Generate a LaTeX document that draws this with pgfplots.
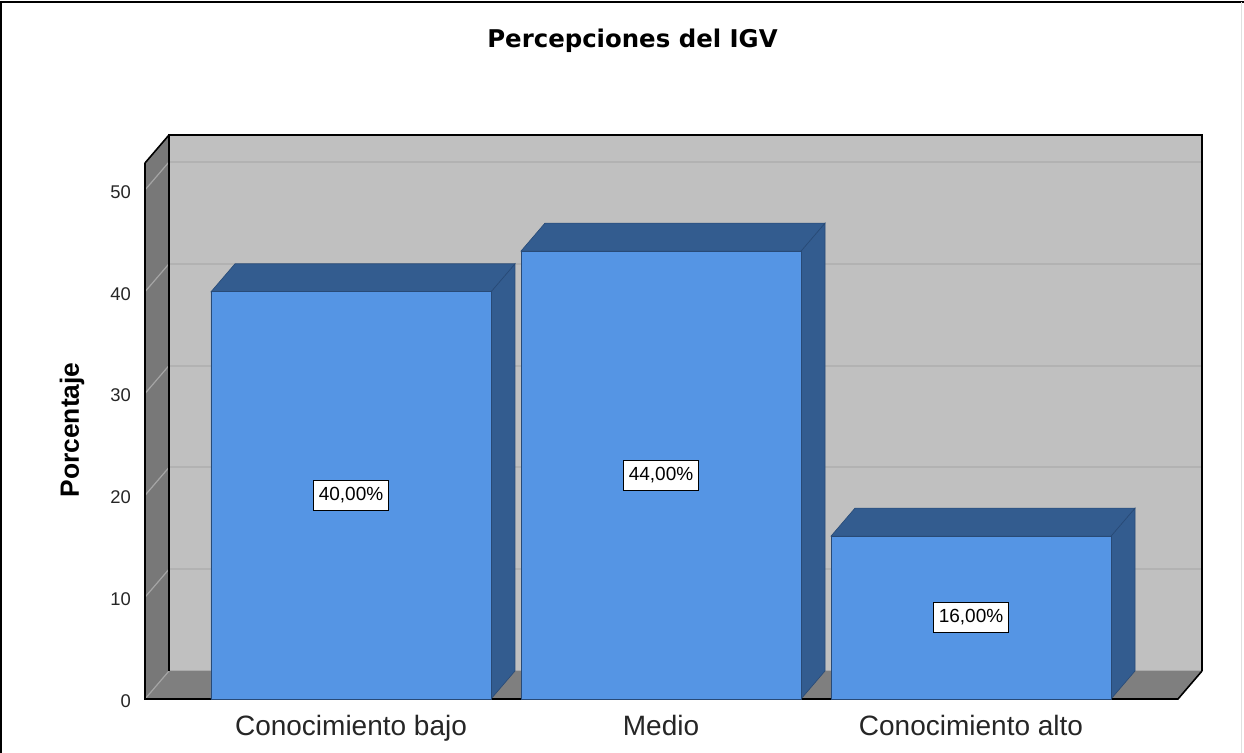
\documentclass[border=0pt]{standalone}
\usepackage{pgfplots}
\pgfplotsset{compat=1.18}
\usepackage{pgfplotstable}
\usepackage{fontspec}
\setmainfont{Liberation Sans}
\newfontfamily\titlefont{DejaVu Sans}
\definecolor{wallback}{HTML}{C0C0C0}
\definecolor{wallside}{HTML}{787878}
\definecolor{wallfloor}{HTML}{7F7F7F}
\definecolor{gridback}{HTML}{B2B2B2}
\definecolor{gridside}{HTML}{A5A5A5}
\definecolor{barfront}{HTML}{5595E4}
\definecolor{barside}{HTML}{335C8F}
\definecolor{baredge}{HTML}{284A76}

\pgfplotstableread{
x v
0 40
1 44
2 16
}\data

\begin{document}
\begin{tikzpicture}
\useasboundingbox (-72.5pt,-27pt) rectangle (549.5pt,349.5pt);
\fill[white] (-72.5pt,-27pt) rectangle (549.5pt,349.5pt);
\begin{axis}[
  at={(0,0)}, anchor=south west,
  scale only axis, width=516.5pt, height=268pt,
  xmin=-0.6645, xmax=2.6677, ymin=0, ymax=52.65,
  clip=false,
  axis line style={draw=none},
  major tick length=0pt,
  xtick={0,1,2},
  xticklabels={Conocimiento bajo, Medio, Conocimiento alto},
  ytick={0,10,20,30,40,50},
  tick label style={/pgf/number format/assume math mode=true},
  yticklabel style={font=\fontsize{9.2}{10}\selectfont, xshift=-3.5pt, yshift=-1pt, text=black!85},
  xticklabel style={font=\fontsize{14}{16}\selectfont, yshift=-4.6pt, text=black!85},
]
% back wall
\addplot[fill=wallback, draw=none, forget plot] coordinates {(-0.5871,2.75) (2.7451,2.75) (2.7451,55.40) (-0.5871,55.40)} -- cycle;
\addplot[gridback, line width=1pt, forget plot] coordinates {(-0.5871,2.75) (2.7451,2.75)};
\addplot[gridback, line width=1pt, forget plot] coordinates {(-0.5871,12.75) (2.7451,12.75)};
\addplot[gridback, line width=1pt, forget plot] coordinates {(-0.5871,22.75) (2.7451,22.75)};
\addplot[gridback, line width=1pt, forget plot] coordinates {(-0.5871,32.75) (2.7451,32.75)};
\addplot[gridback, line width=1pt, forget plot] coordinates {(-0.5871,42.75) (2.7451,42.75)};
\addplot[gridback, line width=1pt, forget plot] coordinates {(-0.5871,52.75) (2.7451,52.75)};
% floor
\addplot[fill=wallfloor, draw=none, forget plot] coordinates {(-0.6645,0) (2.6677,0) (2.7451,2.75) (-0.5871,2.75)} -- cycle;
% left wall
\addplot[fill=wallside, draw=none, forget plot] coordinates {(-0.6645,0) (-0.5871,2.75) (-0.5871,55.40) (-0.6645,52.65)} -- cycle;
\addplot[gridside, line width=0.6pt, forget plot] coordinates {(-0.6645,0) (-0.5871,2.75)};
\addplot[gridside, line width=0.6pt, forget plot] coordinates {(-0.6645,10) (-0.5871,12.75)};
\addplot[gridside, line width=0.6pt, forget plot] coordinates {(-0.6645,20) (-0.5871,22.75)};
\addplot[gridside, line width=0.6pt, forget plot] coordinates {(-0.6645,30) (-0.5871,32.75)};
\addplot[gridside, line width=0.6pt, forget plot] coordinates {(-0.6645,40) (-0.5871,42.75)};
\addplot[gridside, line width=0.6pt, forget plot] coordinates {(-0.6645,50) (-0.5871,52.75)};
% black edges
\addplot[black, line width=0.8pt, forget plot] coordinates {(-0.5871,2.75) (-0.5871,55.40) (2.7451,55.40) (2.7451,2.75)};
\addplot[black, line width=0.8pt, forget plot] coordinates {(-0.6645,52.65) (-0.5871,55.40)};
\addplot[black, line width=0.8pt, forget plot] coordinates {(-0.6645,52.65) (-0.6645,0) (2.6677,0) (2.7451,2.75)};
% bar sides and tops
\addplot[fill=barside, draw=baredge, line width=0.3pt, forget plot] coordinates {(0.4516,0) (0.5290,2.75) (0.5290,42.75) (0.4516,40)} -- cycle;
\addplot[fill=barside, draw=baredge, line width=0.3pt, forget plot] coordinates {(-0.4516,40) (-0.3742,42.75) (0.5290,42.75) (0.4516,40)} -- cycle;
\addplot[fill=barside, draw=baredge, line width=0.3pt, forget plot] coordinates {(1.4516,0) (1.5290,2.75) (1.5290,46.75) (1.4516,44)} -- cycle;
\addplot[fill=barside, draw=baredge, line width=0.3pt, forget plot] coordinates {(0.5484,44) (0.6258,46.75) (1.5290,46.75) (1.4516,44)} -- cycle;
\addplot[fill=barside, draw=baredge, line width=0.3pt, forget plot] coordinates {(2.4516,0) (2.5290,2.75) (2.5290,18.75) (2.4516,16)} -- cycle;
\addplot[fill=barside, draw=baredge, line width=0.3pt, forget plot] coordinates {(1.5484,16) (1.6258,18.75) (2.5290,18.75) (2.4516,16)} -- cycle;
% bar fronts
\addplot[ybar, bar width=0.9032, bar shift=0pt, fill=barfront, draw=baredge, line width=0.3pt] table[x=x, y=v] {\data};
% value labels
\addplot[draw=none, mark=none,
  point meta={\thisrow{v}},
  nodes near coords={\pgfmathprintnumber[fixed, fixed zerofill, precision=2, use comma, assume math mode=true]{\pgfplotspointmeta}\%},
  every node near coord/.append style={anchor=center, fill=white, draw=black, line width=0.5pt,
    font=\fontsize{9.5}{10}\selectfont, inner xsep=2.5pt, inner ysep=0pt, minimum height=15pt, text=black}
] table[x=x, y expr=\thisrow{v}/2] {\data};
\end{axis}
\node[font=\titlefont\bfseries\fontsize{12.2}{14}\selectfont] at (243.75pt,329pt) {Percepciones del IGV};
\node[font=\bfseries\fontsize{13.2}{15}\selectfont, rotate=90] at (-36.5pt,134.5pt) {Porcentaje};
\draw[line width=1.2pt] (-71.9pt,-27pt) -- (-71.9pt,348.6pt) -- (549.5pt,348.6pt);
\draw[black!12, line width=0.6pt] (548.3pt,-27pt) -- (548.3pt,348.6pt);
\end{tikzpicture}
\end{document}
